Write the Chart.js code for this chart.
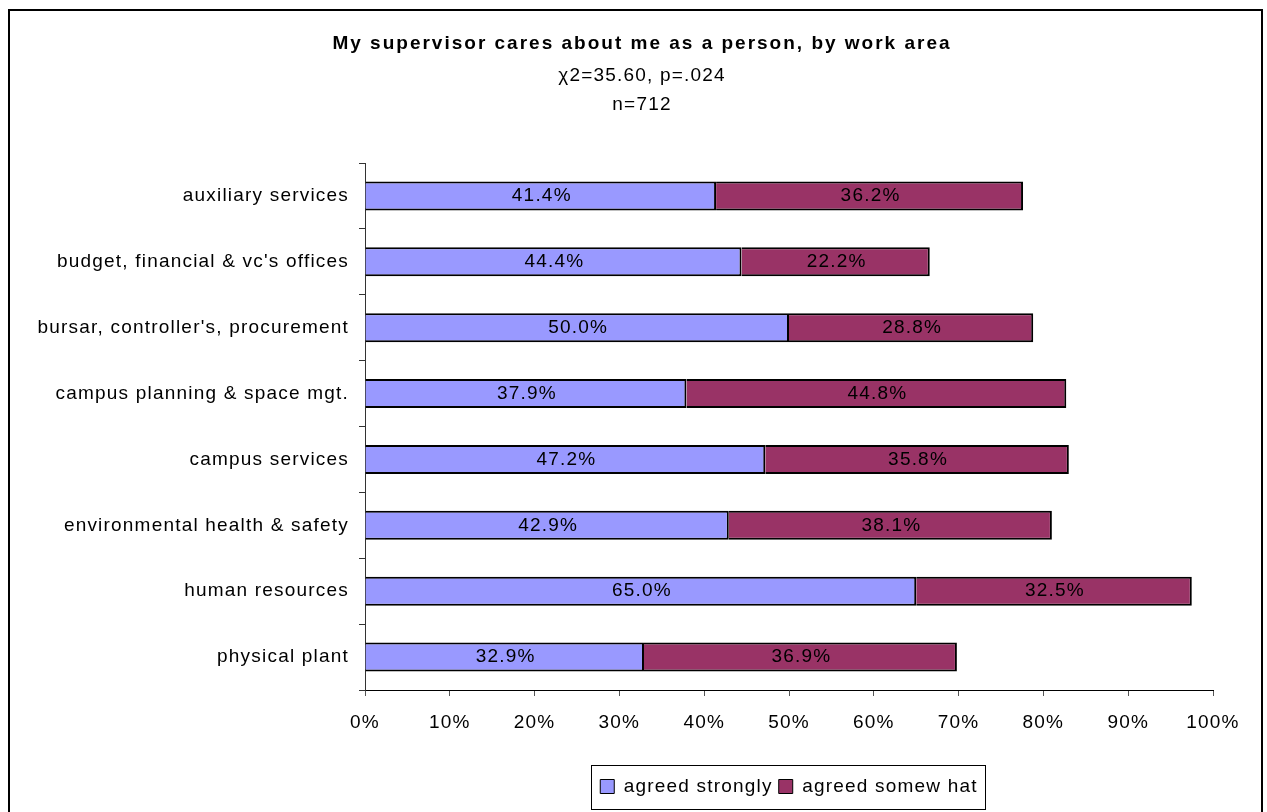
<!DOCTYPE html>
<html>
<head>
<meta charset="utf-8">
<script src="https://cdn.jsdelivr.net/npm/chart.js@4/dist/chart.umd.min.js"></script>
<style>
  html, body { margin: 0; padding: 0; background: #fff; }
  #wrap { width: 1267px; height: 812px; }
</style>
</head>
<body>
<div id="wrap"><canvas id="myChart" width="1267" height="812"></canvas></div>
<script>
const areas = ['auxiliary services', 'budget, financial & vc\'s offices', 'bursar, controller\'s, procurement',
  'campus planning & space mgt.', 'campus services', 'environmental health & safety', 'human resources', 'physical plant']
const agreedStrongly = [41.4, 44.4, 50.0, 37.9, 47.2, 42.9, 65.0, 32.9]
const agreedSomewhat = [36.2, 22.2, 28.8, 44.8, 35.8, 38.1, 32.5, 36.9]
const xTicks = [0, 10, 20, 30, 40, 50, 60, 70, 80, 90, 100]
const titleText = 'My supervisor cares about me as a person, by work area'
const subLines = ['\u03c72=35.60, p=.024', 'n=712']

const FONT = 'Arial, "Liberation Sans", sans-serif'
const SPACING = '1.2px'   // the excel export has loose letter spacing

const spacingPlugin = {
  id: 'spacing',
  afterInit(chart) { chart.ctx.letterSpacing = SPACING },
  beforeUpdate(chart) { chart.ctx.letterSpacing = SPACING },
  beforeDraw(chart) { chart.ctx.letterSpacing = SPACING },
  // legend sits under the plot area, not the whole canvas
  afterLayout(chart) {
    const lg = chart.legend
    const ca = chart.chartArea
    const dx = (ca.left + ca.right) / 2 - (lg.left + lg.right) / 2
    lg.left += dx
    lg.right += dx
  }
}

// white page + black outer frame
const framePlugin = {
  id: 'frame',
  beforeDraw(chart) {
    const ctx = chart.ctx
    ctx.save()
    ctx.fillStyle = '#fff'
    ctx.fillRect(0, 0, chart.width, chart.height)
    ctx.strokeStyle = '#000'
    ctx.lineWidth = 2
    ctx.strokeRect(9, 10, chart.width - 14, chart.height + 10)
    ctx.restore()
  }
}

// title block (drawn here so it can get its own letter spacing)
const titleBlock = {
  id: 'titleBlock',
  afterDraw(chart) {
    const ctx = chart.ctx
    const cx = 642
    ctx.save()
    ctx.fillStyle = '#000'
    ctx.textAlign = 'center'
    ctx.textBaseline = 'alphabetic'
    ctx.font = 'bold 19px ' + FONT
    ctx.letterSpacing = '2px'
    ctx.fillText(titleText, cx, 49)
    ctx.font = '19px ' + FONT
    ctx.letterSpacing = SPACING
    ctx.fillText(subLines[0], cx, 81)
    ctx.fillText(subLines[1], cx, 110)
    ctx.restore()
  }
}

// percent labels in the middle of each segment
const segLabels = {
  id: 'segLabels',
  afterDatasetsDraw(chart) {
    const ctx = chart.ctx
    ctx.save()
    ctx.font = '19px ' + FONT
    ctx.fillStyle = '#000'
    ctx.textAlign = 'center'
    ctx.textBaseline = 'middle'
    chart.data.datasets.forEach((ds, di) => {
      chart.getDatasetMeta(di).data.forEach((bar, i) => {
        const x = (bar.x + bar.base) / 2
        ctx.fillText(ds.data[i].toFixed(1) + '%', x + 1, bar.y)
      })
    })
    ctx.restore()
  }
}

// box around the legend items
const legendBox = {
  id: 'legendBox',
  afterDraw(chart) {
    const hb = chart.legend.legendHitBoxes
    if (!hb || !hb.length) return
    const left = Math.min(...hb.map(h => h.left)) - 9
    const right = Math.max(...hb.map(h => h.left + h.width)) + 8
    const top = hb[0].top - 12
    const ctx = chart.ctx
    ctx.save()
    ctx.strokeStyle = '#000'
    ctx.lineWidth = 1
    ctx.strokeRect(Math.round(left) + 0.5, Math.round(top) + 0.5, Math.round(right - left), 44)
    ctx.restore()
  }
}

const data = {
  labels: areas,
  datasets: [
    { label: 'agreed strongly', data: agreedStrongly, backgroundColor: '#9999FF', borderColor: '#000', borderWidth: 2,
      barPercentage: 0.44, categoryPercentage: 1 },
    { label: 'agreed somewhat', data: agreedSomewhat, backgroundColor: '#993366', borderColor: '#000', borderWidth: 2,
      barPercentage: 0.44, categoryPercentage: 1 }
  ]
}

const config = {
  type: 'bar',
  data: data,
  plugins: [spacingPlugin, framePlugin, segLabels, titleBlock, legendBox],
  options: {
    indexAxis: 'y',
    responsive: false,
    animation: false,
    layout: { padding: { left: 12, right: 54, top: 163, bottom: 6 } },
    plugins: {
      title: { display: false },
      legend: {
        position: 'bottom',
        labels: {
          color: '#000',
          font: { family: FONT, size: 19 },
          boxWidth: 14,
          boxHeight: 14,
          padding: 6,
          generateLabels(chart) {
            return chart.data.datasets.map((ds, i) => ({
              text: ds.label === 'agreed somewhat' ? 'agreed somew hat' : ds.label,
              fillStyle: ds.backgroundColor,
              strokeStyle: '#000',
              lineWidth: 1,
              datasetIndex: i
            }))
          }
        }
      },
      tooltip: { enabled: false }
    },
    scales: {
      x: {
        stacked: true,
        min: 0,
        max: 100,
        afterBuildTicks(scale) { scale.ticks = xTicks.map(v => ({ value: v })) },
        afterFit(scale) { scale.height = 81 },
        border: { color: '#000', width: 1 },
        grid: { drawOnChartArea: false, drawTicks: true, tickLength: 6, color: '#555' },
        ticks: {
          color: '#000',
          font: { family: FONT, size: 19 },
          padding: 15,
          callback: v => v + '%'
        }
      },
      y: {
        stacked: true,
        afterFit(scale) { scale.width = 353 },
        border: { color: '#333', width: 1 },
        grid: { drawOnChartArea: false, drawTicks: true, tickLength: 6, color: '#333', offset: true },
        ticks: {
          color: '#000',
          font: { family: FONT, size: 19 },
          padding: 10
        }
      }
    }
  }
}

const myChart = new Chart(document.getElementById('myChart'), config)
</script>
</body>
</html>
